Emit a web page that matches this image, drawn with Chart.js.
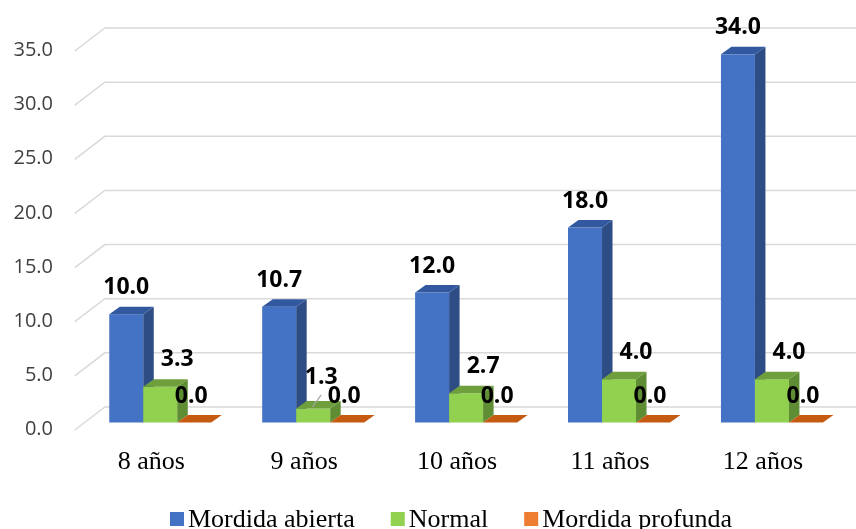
<!DOCTYPE html>
<html>
<head>
<meta charset="utf-8">
<script src="https://cdn.jsdelivr.net/npm/chart.js@4/dist/chart.umd.min.js"></script>
<style>
  html, body { margin: 0; padding: 0; background: #ffffff; }
  #wrap { width: 856px; height: 529px; position: relative; }
</style>
</head>
<body>
<div id="wrap"><canvas id="c" width="856" height="529"></canvas></div>
<script>
// Age groups and percentages per bite type
const categories = ['8 años', '9 años', '10 años', '11 años', '12 años'];
const mordidaAbierta = [10.0, 10.7, 12.0, 18.0, 34.0];
const normal = [3.3, 1.3, 2.7, 4.0, 4.0];
const mordidaProfunda = [0.0, 0.0, 0.0, 0.0, 0.0];
const seriesNames = ['Mordida abierta', 'Normal', 'Mordida profunda'];
const yTickValues = [0, 5, 10, 15, 20, 25, 30, 35];

// Face colours for the pseudo-3D columns: front, side, top
const faces = [
  { front: '#4472C4', side: '#2E4D85', top: '#3259A0', legend: '#4472C4' },
  { front: '#92D050', side: '#5F8D33', top: '#6E9F3C', legend: '#92D050' },
  { front: '#ED7D31', side: '#A8531A', top: '#C55A11', legend: '#ED7D31' }
];

const DEPTH_X = 10.5, DEPTH_Y = -7.5;        // column depth
const WALL_FRONT_X = -9, WALL_BACK_X = 21;   // side wall relative to plot left
const WALL_FRONT_Y = 7.5, WALL_BACK_Y = -15.5;

// per-series label placement relative to the column's front top
const labelShift = [[0, -26.5], [17, -27], [-3, -26]];

const depthPlugin = {
  id: 'depth',
  beforeDatasetsDraw(chart) {
    const ctx = chart.ctx, ys = chart.scales.y, area = chart.chartArea;
    ctx.save();
    ctx.strokeStyle = '#D9D9D9';
    ctx.lineWidth = 1.5;
    ys.ticks.forEach(t => {
      const y = ys.getPixelForValue(t.value);
      ctx.beginPath();
      ctx.moveTo(area.left + WALL_FRONT_X, y + WALL_FRONT_Y);
      ctx.lineTo(area.left + WALL_BACK_X, y + WALL_BACK_Y);
      ctx.lineTo(chart.width, y + WALL_BACK_Y);
      ctx.stroke();
    });
    ctx.restore();
  },
  beforeDatasetDraw() { return false; },
  afterDatasetsDraw(chart) {
    const ctx = chart.ctx;
    const metas = chart.data.datasets.map((d, i) => chart.getDatasetMeta(i));
    const n = chart.data.labels.length;
    ctx.save();
    for (let i = 0; i < n; i++) {
      metas.forEach((meta, s) => {
        const bar = meta.data[i];
        const p = bar.getProps(['x', 'y', 'base', 'width'], true);
        const l = p.x - p.width / 2, r = p.x + p.width / 2;
        const top = Math.min(p.y, p.base), bot = Math.max(p.y, p.base);
        const f = faces[s];
        if (bot - top > 0.5) {
          // front
          ctx.fillStyle = f.front;
          ctx.fillRect(l, top, r - l, bot - top);
          // side
          ctx.fillStyle = f.side;
          ctx.beginPath();
          ctx.moveTo(r, top);
          ctx.lineTo(r + DEPTH_X, top + DEPTH_Y);
          ctx.lineTo(r + DEPTH_X, bot + DEPTH_Y);
          ctx.lineTo(r, bot);
          ctx.closePath();
          ctx.fill();
        }
        // top
        ctx.fillStyle = f.top;
        ctx.beginPath();
        ctx.moveTo(l, top);
        ctx.lineTo(r, top);
        ctx.lineTo(r + DEPTH_X, top + DEPTH_Y);
        ctx.lineTo(l + DEPTH_X, top + DEPTH_Y);
        ctx.closePath();
        ctx.fill();
      });
    }
    // value labels
    ctx.font = 'bold 23px "Open Sans", sans-serif';
    ctx.fillStyle = '#000000';
    ctx.textAlign = 'center';
    ctx.textBaseline = 'middle';
    metas.forEach((meta, s) => {
      const values = chart.data.datasets[s].data;
      meta.data.forEach((bar, i) => {
        let lx = bar.x + labelShift[s][0];
        let ly = bar.y + labelShift[s][1];
        // small column whose label sits beside a leader line
        if (s === 1 && values[i] < 2) {
          lx -= 9; ly -= 4;
          ctx.save();
          ctx.strokeStyle = '#A6A6A6';
          ctx.lineWidth = 1.2;
          ctx.beginPath();
          ctx.moveTo(bar.x - 0.5, bar.y - 1.5);
          ctx.lineTo(bar.x + 8, bar.y - 13.5);
          ctx.stroke();
          ctx.restore();
        }
        ctx.fillText(values[i].toFixed(1), lx, ly);
      });
    });
    // legend
    ctx.font = '26px "Liberation Serif", "Times New Roman", serif';
    ctx.textAlign = 'left';
    ctx.textBaseline = 'alphabetic';
    const box = 14, gap = 4, itemGap = 36;
    const widths = seriesNames.map(nm => box + gap + ctx.measureText(nm).width);
    let x = 170;
    const baseY = 527;
    seriesNames.forEach((nm, k) => {
      ctx.fillStyle = faces[k].legend;
      ctx.fillRect(x, baseY - 15, box, box);
      ctx.fillStyle = '#000000';
      ctx.fillText(nm, x + box + gap, baseY);
      x += widths[k] + itemGap;
    });
    ctx.restore();
  }
};

new Chart(document.getElementById('c'), {
  type: 'bar',
  data: {
    labels: categories,
    datasets: [
      { label: seriesNames[0], data: mordidaAbierta, backgroundColor: faces[0].front },
      { label: seriesNames[1], data: normal, backgroundColor: faces[1].front },
      { label: seriesNames[2], data: mordidaProfunda, backgroundColor: faces[2].front }
    ]
  },
  options: {
    responsive: false,
    animation: false,
    events: [],
    layout: { padding: { top: 43.5, right: 7.6, left: 0, bottom: 0 } },
    datasets: { bar: { barPercentage: 1.0, categoryPercentage: 0.667 } },
    plugins: { legend: { display: false }, tooltip: { enabled: false } },
    scales: {
      x: {
        grid: { display: false, drawTicks: false },
        border: { display: false },
        ticks: {
          padding: 24,
          labelOffset: -9,
          color: '#000000',
          font: { family: '"Liberation Serif", "Times New Roman", serif', size: 26 }
        },
        afterFit(scale) { scale.height = 106.5; }
      },
      y: {
        min: 0,
        max: 35,
        afterBuildTicks(scale) { scale.ticks = yTickValues.map(v => ({ value: v })); },
        grid: { display: false, drawTicks: false },
        border: { display: false },
        ticks: {
          padding: 30.8,
          labelOffset: 7,
          color: '#404040',
          font: { family: '"Open Sans", sans-serif', size: 20 },
          callback: v => Number(v).toFixed(1)
        },
        afterFit(scale) { scale.width = 83.8; }
      }
    }
  },
  plugins: [depthPlugin]
});
</script>
</body>
</html>
